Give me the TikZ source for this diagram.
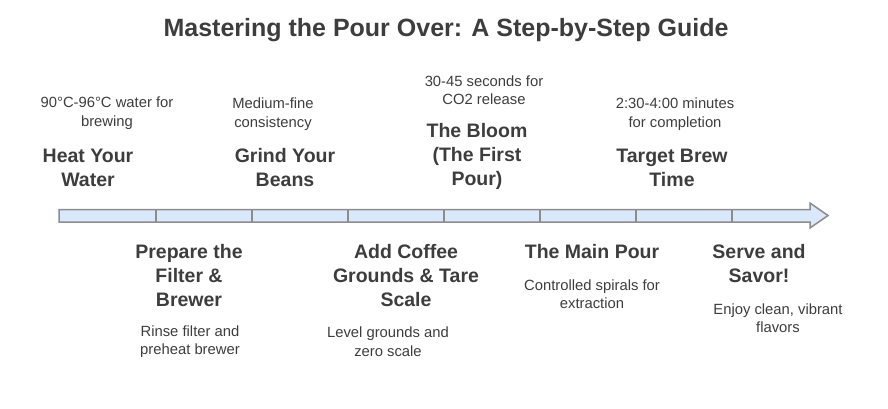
\documentclass[tikz,border=0pt]{standalone}
\usepackage{fontspec}
\setmainfont{Liberation Sans}
\definecolor{txtgray}{HTML}{3D3D3D}
\definecolor{barline}{HTML}{8C8C8C}
\definecolor{barfill}{HTML}{DAE8FC}
\begin{document}
\begin{tikzpicture}[
	x=1pt, y=-1pt,
	title/.style={font=\fontsize{25}{30}\selectfont\bfseries, text=txtgray, inner sep=0pt},
	head/.style={font=\fontsize{19.5}{24}\selectfont\bfseries, text=txtgray, align=center, inner sep=0pt},
	desc/.style={font=\fontsize{14.8}{18.5}\selectfont, text=txtgray, align=center, inner sep=0pt},
	bar/.style={draw=barline, fill=barfill, line width=1.5pt, line join=miter},
	tick/.style={draw=barline, line width=1.5pt}
	]
	\useasboundingbox (0,0) rectangle (888,408);
	
	%-----------------------
	% Customizable heights
	%-----------------------
	\def\htop{209.5}     % top edge of the bar
	\def\hbot{222}       % bottom edge of the bar
	\def\hmid{215.5}     % bar axis
	
	%-----------------------
	% Title
	%-----------------------
	\node[title] (T) at (446,30) {Mastering the Pour Over: A Step-by-Step Guide};
	
	%-----------------------
	% Timeline arrow (bar, head, dividers)
	%-----------------------
	\draw[bar] (59,\htop) -- (810,\htop) -- (810,203) -- (828,\hmid) -- (810,228)
		-- (810,\hbot) -- (59,\hbot) -- cycle;
	\draw[tick] (156,\htop) -- (156,\hbot);
	\draw[tick] (252,\htop) -- (252,\hbot);
	\draw[tick] (348,\htop) -- (348,\hbot);
	\draw[tick] (444,\htop) -- (444,\hbot);
	\draw[tick] (540,\htop) -- (540,\hbot);
	\draw[tick] (636,\htop) -- (636,\hbot);
	\draw[tick] (732,\htop) -- (732,\hbot);
	
	%-----------------------
	% Steps above the bar (1, 3, 5, 7)
	%-----------------------
	\node[desc] (D1) at (107,113) {90°C-96°C water for\\brewing};
	\node[head] (H1) at (88,168)    {Heat Your\\Water};
	
	\node[desc] (D3) at (273,114) {Medium-fine\\consistency};
	\node[head] (H3) at (285,168)   {Grind Your\\Beans};
	
	\node[desc] (D5) at (484,90)  {30-45 seconds for\\CO2 release};
	\node[head] (H5) at (477,156)   {The Bloom\\(The First\\Pour)};
	
	\node[desc] (D7) at (675,114) {2:30-4:00 minutes\\for completion};
	\node[head] (H7) at (672,168)   {Target Brew\\Time};
	
	%-----------------------
	% Steps below the bar (2, 4, 6, 8)
	%-----------------------
	\node[head] (H2) at (189,276)   {Prepare the\\Filter \&\\Brewer};
	\node[desc] (D2) at (190,341.5) {Rinse filter and\\preheat brewer};
	
	\node[head] (H4) at (406,276)   {Add Coffee\\Grounds \& Tare\\Scale};
	\node[desc] (D4) at (388,341.5) {Level grounds and\\zero scale};
	
	\node[head] (H6) at (592,252)   {The Main Pour};
	\node[desc] (D6) at (592,294)   {Controlled spirals for\\extraction};
	
	\node[head] (H8) at (759,264)   {Serve and\\Savor!};
	\node[desc] (D8) at (778,318)   {Enjoy clean, vibrant\\flavors};
	
\end{tikzpicture}
\end{document}
